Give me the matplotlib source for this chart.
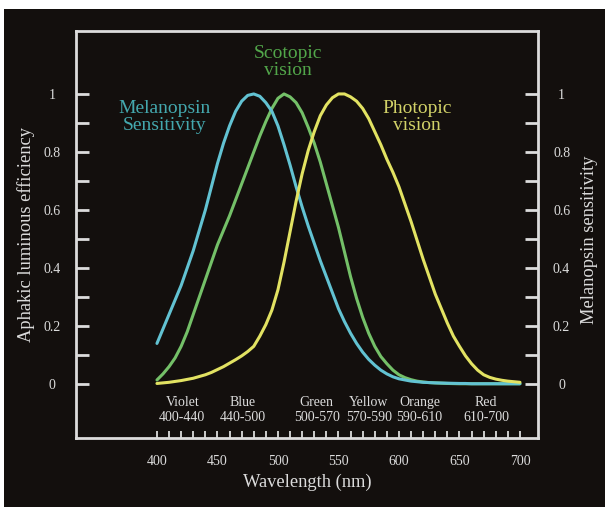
import numpy as np
import matplotlib.pyplot as plt
from matplotlib.patches import Rectangle

# ---------------- DADOS ----------------

# Comprimentos de onda (nm), passo de 5 nm
wavelength = list(range(400, 701, 5))

# Sensibilidade da melanopsina (curva ciano)
melanopsin = [0.14, 0.19, 0.24, 0.29, 0.34, 0.40, 0.46, 0.53, 0.60, 0.68,
              0.76, 0.83, 0.89, 0.94, 0.975, 0.995, 1.0, 0.992, 0.97, 0.94,
              0.89, 0.825, 0.755, 0.68, 0.61, 0.545, 0.485, 0.425, 0.37, 0.315,
              0.26, 0.215, 0.175, 0.14, 0.11, 0.085, 0.065, 0.048, 0.035, 0.025,
              0.018, 0.014, 0.010, 0.008, 0.006, 0.005, 0.004, 0.0035, 0.003, 0.0025,
              0.002, 0.002, 0.001, 0.001, 0.001, 0.001, 0.001, 0.001, 0.001, 0.001,
              0.001]

# Visao escotopica (curva verde)
scotopic = [0.014, 0.035, 0.06, 0.09, 0.13, 0.18, 0.24, 0.30, 0.36, 0.42,
            0.48, 0.53, 0.58, 0.635, 0.69, 0.745, 0.80, 0.855, 0.905, 0.95,
            0.985, 1.0, 0.99, 0.97, 0.935, 0.885, 0.83, 0.765, 0.69, 0.615,
            0.54, 0.455, 0.37, 0.295, 0.23, 0.175, 0.13, 0.095, 0.07, 0.048,
            0.032, 0.022, 0.015, 0.010, 0.007, 0.005, 0.004, 0.003, 0.002, 0.0015,
            0.001, 0.001, 0.001, 0.001, 0.001, 0.001, 0.001, 0.001, 0.001, 0.001,
            0.001]

# Visao fotopica (curva amarela)
photopic = [0.002, 0.004, 0.006, 0.009, 0.012, 0.016, 0.020, 0.026, 0.032, 0.040,
            0.050, 0.060, 0.072, 0.084, 0.097, 0.112, 0.13, 0.165, 0.205, 0.255,
            0.325, 0.42, 0.525, 0.63, 0.725, 0.805, 0.87, 0.925, 0.962, 0.987,
            1.0, 1.0, 0.99, 0.975, 0.95, 0.915, 0.87, 0.825, 0.775, 0.73,
            0.68, 0.62, 0.56, 0.495, 0.43, 0.37, 0.31, 0.26, 0.21, 0.165,
            0.13, 0.097, 0.07, 0.048, 0.032, 0.023, 0.017, 0.013, 0.010, 0.008,
            0.006]

# Faixas de cor
band_names = ['Violet', 'Blue', 'Green', 'Yellow', 'Orange', 'Red']
band_ranges = ['400-440', '440-500', '500-570', '570-590', '590-610', '610-700']

x_ticks = [400, 450, 500, 550, 600, 650, 700]
y_ticks = [0, 0.2, 0.4, 0.6, 0.8, 1]
y_ticklabels = ['0', '0.2', '0.4', '0.6', '0.8', '1']

# ---------------- LAYOUT ----------------

band_label_x = [421, 471, 532, 575, 617, 672]
bg = '#130f0d'
fg = '#dcdcdc'

plt.rcParams['font.family'] = ['Liberation Serif', 'DejaVu Serif']

fig = plt.figure(figsize=(6.05, 5.07), dpi=100, facecolor='white')
fig.patches.append(Rectangle((4 / 605, 0), 1, (507 - 9) / 507, transform=fig.transFigure,
                             facecolor=bg, edgecolor='none', zorder=-10))

ax = fig.add_axes([76 / 605, 1 - 438 / 507, (538 - 76) / 605, (438 - 31) / 507])
ax.set_facecolor(bg)

ax.plot(wavelength, scotopic, color='#74c068', lw=2.2, solid_capstyle='round')
ax.plot(wavelength, melanopsin, color='#62c2d2', lw=2.2, solid_capstyle='round')
ax.plot(wavelength, photopic, color='#e2e262', lw=2.2, solid_capstyle='round')

ax.set_xlim(333.1, 714.9)
ax.set_ylim(-0.186, 1.217)

for s in ax.spines.values():
    s.set_color(fg)
    s.set_linewidth(2)

# ticks do eixo x (a cada 10 nm, para dentro)
ax.set_xticks(x_ticks)
ax.set_xticks(np.arange(400, 701, 10), minor=True)
ax.tick_params(axis='x', which='both', direction='in', length=5, width=1.3,
               colors=fg, labelsize=10, pad=12)

# ticks do eixo y (dos dois lados)
ax.set_yticks(y_ticks)
ax.set_yticklabels(y_ticklabels)
ax.set_yticks(np.arange(0.1, 1.0, 0.2), minor=True)
ax.tick_params(axis='y', which='both', direction='in', length=9.5, width=2,
               colors=fg, left=True, right=True, labelleft=True, labelright=True,
               labelsize=10)
ax.tick_params(axis='y', which='major', pad=17)

for t in ax.yaxis.get_major_ticks():
    t.label1.set_horizontalalignment('center')
    t.label2.set_horizontalalignment('center')

ax.set_xlabel('Wavelength (nm)', color=fg, fontsize=13.3, labelpad=4)
ax.set_ylabel('Aphakic luminous efficiency', color=fg, fontsize=13.3, labelpad=6)
fig.text(590 / 605, 1 - 240 / 507, 'Melanopsin sensitivity', color=fg, fontsize=13.3,
         rotation=90, ha='center', va='center')

# nomes das curvas
ax.text(406.6, 0.919, 'Melanopsin\nSensitivity', color='#44a8ae', fontsize=14,
        ha='center', va='center', linespacing=1.0)
ax.text(507.9, 1.109, 'Scotopic\nvision', color='#52a64a', fontsize=14,
        ha='center', va='center', linespacing=1.0)
ax.text(614.9, 0.919, 'Photopic\nvision', color='#d2d268', fontsize=14,
        ha='center', va='center', linespacing=1.0)

# faixas de cor
for xpos, name, rng in zip(band_label_x, band_names, band_ranges):
    ax.text(xpos, -0.062, name, color=fg, fontsize=10, ha='center', va='center')
    ax.text(xpos, -0.117, rng, color=fg, fontsize=10, ha='center', va='center')

plt.savefig('out.png', dpi=100, facecolor=fig.get_facecolor())
